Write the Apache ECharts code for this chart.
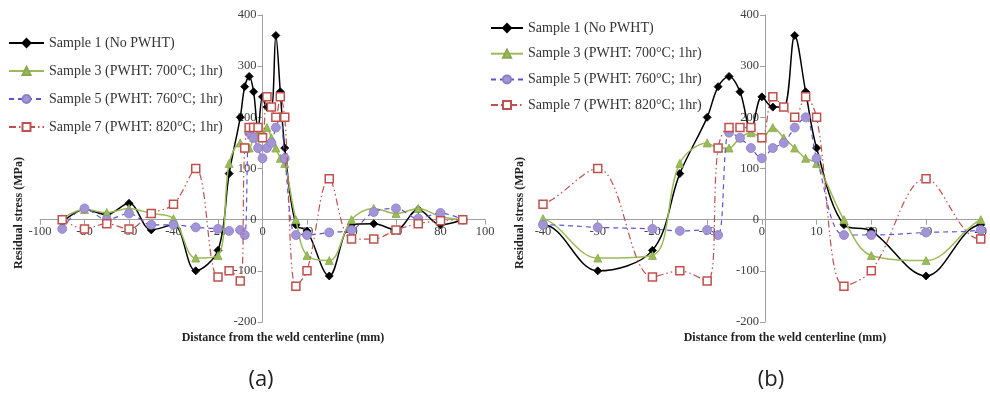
<!DOCTYPE html>
<html>
<head>
<meta charset="utf-8">
<script src="https://cdn.jsdelivr.net/npm/echarts@6/dist/echarts.min.js"></script>
<style>
  html, body { margin: 0; padding: 0; background: #ffffff; }
  #chart { width: 990px; height: 396px; }
</style>
</head>
<body>
<div id="chart"></div>
<script>
// Measurement positions (mm from the weld centerline)
const distance = [-90, -80, -70, -60, -50, -40, -30, -20, -15, -10, -8, -6, -4, -2, 0, 2, 4, 6, 8, 10, 15, 20, 30, 40, 50, 60, 70, 80, 90];

// Residual stress (MPa) per sample
const sample1 = [-5, 20, 10, 32, -20, -10, -100, -60, 90, 200, 260, 280, 250, 175, 240, 220, 220, 360, 250, 140, -10, -22, -110, -10, -8, -20, 20, -10, 0];
const sample3 = [2, 20, 14, 22, 12, 2, -75, -70, 110, 150, 140, 140, 160, 170, 160, 180, 160, 140, 120, 110, 0, -70, -80, 0, 22, 12, 22, 6, 0];
const sample5 = [-18, 22, 0, 12, -10, -10, -15, -18, -22, -20, -30, 170, 160, 140, 120, 140, 150, 180, 200, 120, -30, -30, -25, -20, 15, 22, 2, 13, 0];
const sample7 = [0, -18, -8, -18, 12, 30, 100, -112, -100, -120, 140, 180, 180, 180, 160, 240, 220, 200, 240, 200, -130, -100, 80, -38, -38, -20, -8, -2, 0];

const seriesNames = [
  'Sample 1 (No PWHT)',
  'Sample 3 (PWHT: 700°C; 1hr)',
  'Sample 5 (PWHT: 760°C; 1hr)',
  'Sample 7 (PWHT: 820°C; 1hr)'
];

// Axis ranges and tick steps for the full view (a) and the close-up (b)
const xRangeA = [-100, 100, 20];
const xRangeB = [-40, 40, 10];
const yRange = [-200, 400, 100];

const serif = '"Liberation Serif", "Times New Roman", serif';
const axisGray = '#a0a0a0';

// Plot boxes; the axes cross at the origin, so they are shifted in from the box edges
const boxA = { left: 40, right: 505, top: 15, bottom: 74 };
const boxB = { left: 543, right: 3, top: 15, bottom: 74 };
const W = 990, H = 396;

function crossOffsets(box, xr) {
  const w = W - box.left - box.right;
  const h = H - box.top - box.bottom;
  const xZero = w * (0 - xr[0]) / (xr[1] - xr[0]);
  const yZeroFromBottom = h * (0 - yRange[0]) / (yRange[1] - yRange[0]);
  return { x: -yZeroFromBottom, y: -xZero };
}

function pairs(values) {
  return distance.map((d, i) => [d, values[i]]);
}

const styles = [
  { data: sample1, color: '#000000', width: 1.5, type: 'solid',
    symbol: 'diamond', size: 8, fill: '#000000', border: '#000000' },
  { data: sample3, color: '#9bbb59', width: 1.5, type: 'solid',
    symbol: 'triangle', size: 8, fill: '#9bbb59', border: '#8aa84c' },
  { data: sample5, color: '#5a55cf', width: 1.2, type: [5, 4],
    symbol: 'circle', size: 9, fill: '#a294d6', border: '#8b80c4' },
  { data: sample7, color: '#c0504d', width: 1.2, type: [7, 3, 1.5, 3, 1.5, 3],
    symbol: 'rect', size: 8, fill: '#ffffff', border: '#c0504d' }
];

function makeSeries(gridIndex) {
  return styles.map((s, i) => ({
    name: seriesNames[i],
    type: 'line',
    xAxisIndex: gridIndex,
    yAxisIndex: gridIndex,
    data: pairs(s.data),
    smooth: 0.35,
    symbol: s.symbol,
    symbolSize: s.size,
    showAllSymbol: true,
    lineStyle: { color: s.color, width: s.width, type: s.type },
    itemStyle: { color: s.fill, borderColor: s.border, borderWidth: s.symbol === 'rect' ? 1.5 : 0.8 },
    emphasis: { disabled: true },
    animation: false,
    z: 2 + i
  }));
}

const axisLabelStyle = { margin: 6, color: '#404040', fontFamily: serif, fontSize: 12.5 };

function xAxis(gridIndex, range, offset) {
  return {
    type: 'value', gridIndex: gridIndex, position: 'bottom', offset: offset,
    min: range[0], max: range[1], interval: range[2],
    axisLine: { onZero: false, lineStyle: { color: axisGray, width: 1 } },
    axisTick: { show: true, inside: false, length: 5, lineStyle: { color: axisGray } },
    axisLabel: axisLabelStyle,
    splitLine: { show: false }
  };
}

function yAxis(gridIndex, offset) {
  return {
    type: 'value', gridIndex: gridIndex, position: 'left', offset: offset,
    min: yRange[0], max: yRange[1], interval: yRange[2],
    axisLine: { show: true, onZero: false, lineStyle: { color: axisGray, width: 1 } },
    axisTick: { show: true, inside: false, length: 5, lineStyle: { color: axisGray } },
    axisLabel: axisLabelStyle,
    splitLine: { show: false }
  };
}

const offA = crossOffsets(boxA, xRangeA);
const offB = crossOffsets(boxB, xRangeB);

const legendText = { fontFamily: serif, fontSize: 14, color: '#333333', lineHeight: 16 };

const option = {
  backgroundColor: '#ffffff',
  animation: false,
  grid: [boxA, boxB],
  xAxis: [xAxis(0, xRangeA, offA.x), xAxis(1, xRangeB, offB.x)],
  yAxis: [yAxis(0, offA.y), yAxis(1, offB.y)],
  legend: [
    { data: seriesNames, orient: 'vertical', left: 8, top: 35, padding: 0,
      itemWidth: 35, itemHeight: 10, itemGap: 12, textStyle: legendText,
      selectedMode: false },
    { data: seriesNames, orient: 'vertical', left: 490, top: 20, padding: 0,
      itemWidth: 32, itemHeight: 10, itemGap: 9.7, textStyle: legendText,
      selectedMode: false }
  ],
  graphic: [
    { type: 'text', x: 19, y: 213, rotation: Math.PI / 2,
      style: { text: 'Residual stress (MPa)', font: 'bold 12px ' + serif, fill: '#222',
        align: 'center', verticalAlign: 'middle' } },
    { type: 'text', x: 520, y: 213, rotation: Math.PI / 2,
      style: { text: 'Residual stress (MPa)', font: 'bold 12px ' + serif, fill: '#222',
        align: 'center', verticalAlign: 'middle' } },
    { type: 'text', x: 283, y: 338,
      style: { text: 'Distance from the weld centerline (mm)', font: 'bold 12px ' + serif, fill: '#222',
        align: 'center', verticalAlign: 'middle' } },
    { type: 'text', x: 785, y: 338,
      style: { text: 'Distance from the weld centerline (mm)', font: 'bold 12px ' + serif, fill: '#222',
        align: 'center', verticalAlign: 'middle' } },
    { type: 'text', x: 261, y: 380,
      style: { text: '(a)', font: '22px "Open Sans", sans-serif', fill: '#222',
        align: 'center', verticalAlign: 'middle' } },
    { type: 'text', x: 771, y: 380,
      style: { text: '(b)', font: '22px "Open Sans", sans-serif', fill: '#222',
        align: 'center', verticalAlign: 'middle' } }
  ],
  series: makeSeries(0).concat(makeSeries(1))
};

const chart = echarts.init(document.getElementById('chart'), null, { renderer: 'canvas' });
chart.setOption(option);
</script>
</body>
</html>
